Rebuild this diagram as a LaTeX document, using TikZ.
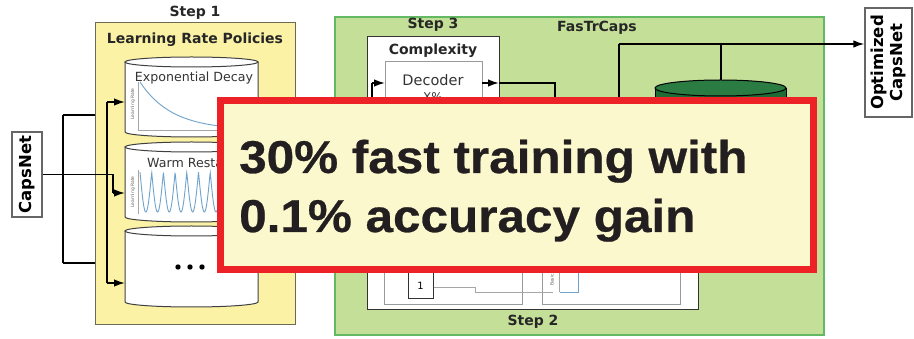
\documentclass[tikz,border=0pt]{standalone}
\usepackage{fontspec}
\setmainfont{DejaVu Sans}
\newfontfamily\bigfont{Liberation Sans}[FakeStretch=1.075, BoldFeatures={FakeBold=0.6}]
\usetikzlibrary{arrows.meta}
\definecolor{yelfill}{HTML}{FBF2A5}
\definecolor{yelline}{HTML}{6B6B55}
\definecolor{grnfill}{HTML}{C4DF98}
\definecolor{grnline}{HTML}{63B863}
\definecolor{redline}{HTML}{EC2227}
\definecolor{creamfill}{HTML}{FCF8CE}
\definecolor{txtdark}{HTML}{231F20}
\definecolor{darkgrn}{HTML}{1F6B35}
\definecolor{darkgrntop}{HTML}{2B7C42}
\definecolor{curveblue}{HTML}{6FA3CC}
\definecolor{boxgray}{HTML}{9A9A9A}
\tikzset{
  lbl/.style={font=\bfseries\fontsize{14}{16}\selectfont, inner sep=0pt, text=black!85},
  wire/.style={line width=1.6pt, black},
  arr/.style={wire, -{Latex[length=11pt,width=7.5pt]}},
  thinbox/.style={draw=boxgray, line width=1pt, fill=white},
  tinytxt/.style={font=\fontsize{4.5}{5}\selectfont, text=black!60, inner sep=0pt, rotate=90},
  axisline/.style={draw=black!35, line width=0.6pt},
  curve/.style={draw=curveblue, line width=0.9pt},
  sidebox/.style={draw=black!60, line width=1.2pt, fill=white, rotate=90, inner sep=0pt,
     font=\bfseries\fontsize{16.5}{19}\selectfont, align=center}
}
\begin{document}
\begin{tikzpicture}[x=1pt,y=-1pt]
\useasboundingbox (0,0) rectangle (914,339);
\fill[white] (0,0) rectangle (914,339);

% input box
\node[sidebox, minimum width=85pt, minimum height=30pt] (caps) at (27,174.5) {CapsNet};

% lines hidden behind step 1 box
\draw[wire] (63,115) -- (63,263);
\draw[wire] (63,115) -- (107,115);
\draw[wire] (63,263) -- (107,263);

% Step 1 box
\draw[fill=yelfill, draw=yelline, line width=1pt] (95,23) rectangle (295,325);
\node[lbl] (s1) at (195,13) {Step 1};
\node[lbl] (lrp) at (195,40) {Learning Rate Policies};

% cylinders of step 1
\foreach \t/\b/\n in {62/132/c1, 147/217/c2, 231/302/c3}{
  \draw[fill=white, draw=black!75, line width=1pt] (125,\t) -- (125,\b)
     arc[start angle=180, end angle=0, x radius=66.5, y radius=5] -- (258,\t);
  \draw[fill=white, draw=black!75, line width=1pt] (191.5,\t) ellipse[x radius=66.5, y radius=5];
  \coordinate (\n) at (125,\t);
}
\node[font=\fontsize{12.6}{14}\selectfont, inner sep=0pt, text=black!80] (ed) at (194,78) {Exponential Decay};
\node[font=\fontsize{12.6}{14}\selectfont, inner sep=0pt, text=black!80, anchor=west] (wr) at (147,163) {Warm Restarts};
\node[tinytxt] (lr1) at (133,104) {Learning Rate};
\node[tinytxt] (lr2) at (133,192) {Learning Rate};
\draw[axisline] (138,82) -- (138,130) -- (250,130);
\draw[curve] plot[domain=140:250, samples=80] (\x, {130-48*exp(-(\x-140)/32)});
\draw[axisline] (138,170) -- (138,214);
\draw[curve] plot[domain=140:250, samples=300] (\x, {172+40*abs(sin((\x-140)/11.7*180))});
\foreach \dx in {178,190,202}{ \fill[black] (\dx,267) circle[radius=2.7]; }

% connectors into step 1
\draw[wire] (107,102) -- (107,283);
\draw[arr] (107,102) -- (c1 |- 0,102);
\draw[arr] (107,283) -- (c3 |- 0,283);
\draw[wire] (caps.south) -- (113,174.5) -- (113,193);
\draw[arr] (113,193) -- (c2 |- 0,193);

% FasTrCaps box
\draw[fill=grnfill, draw=grnline, line width=1.5pt] (335,17) rectangle (824,335);
\node[lbl] (s3) at (433,25) {Step 3};
\node[lbl] (ftc) at (597,28) {FasTrCaps};

% Complexity box and step 2 box
\draw[fill=white, draw=black!80, line width=1pt] (367,200) rectangle (698,310);
\draw[fill=white, draw=black!80, line width=1pt] (367,37) rectangle (499,170);
\node[lbl] (cplx) at (433,51) {Complexity};
\draw[thinbox] (385,62) rectangle (482,160);
\node[font=\fontsize{14.5}{16}\selectfont, inner sep=0pt, text=black!80] (dec) at (433,80) {Decoder};
\node[font=\fontsize{12}{14}\selectfont, inner sep=0pt, text=black!80] (xp) at (433,97) {X\%};
\draw[thinbox] (384,220) rectangle (522,305);
\draw[thinbox] (542,220) rectangle (680,305);
\node[draw=black!80, line width=1pt, fill=white, minimum width=25pt, minimum height=26pt, inner sep=0pt,
  font=\fontsize{10}{12}\selectfont] (one) at (420.5,286) {1};
\draw[draw=black!35, line width=0.7pt] (one.east |- 0,287) -- (475,287) -- (475,292) -- (553,292);
\node[tinytxt] (basic) at (552,280) {Basic};
\draw[axisline] (559,273) -- (559,292);
\draw[curve] (560,292) -- (578,292) -- (578,273);

% connectors around decoder
\draw[wire] (372,120) -- (372,83);
\draw[arr] (372,83) -- (385,83);
\draw[arr] (482,83) -- (499,83);
\draw[wire] (499,83) -- (555,83) -- (555,150);

% database cylinder
\draw[fill=darkgrn, draw=black, line width=1pt] (655,88) -- (655,200) -- (786,200) -- (786,88);
\draw[fill=darkgrntop, draw=black, line width=1pt] (720.5,88) ellipse[x radius=65.5, y radius=8];

% output
\node[sidebox, minimum width=109pt, minimum height=47pt] (opt) at (888.5,62.5) {Optimized\\CapsNet};
\coordinate (oj) at (619,44);
\draw[wire] (619,150) -- (oj);
\draw[arr] (oj) -- (oj -| opt.north);
\draw[wire] (721,44) -- (721,80);

% highlight box
\node[draw=redline, line width=7pt, fill=creamfill, minimum width=593pt, minimum height=169pt, inner sep=0pt] (hl) at (517,185) {};
\node[anchor=base west, font=\bigfont\bfseries\fontsize{46}{50}\selectfont, text=txtdark, inner sep=0pt] (l1) at (239,173) {30\% fast training with};
\node[anchor=base west, font=\bigfont\bfseries\fontsize{46}{50}\selectfont, text=txtdark, inner sep=0pt] (l2) at (239,232) {0.1\% accuracy gain};

\node[lbl] (s2) at (533,322) {Step 2};
\end{tikzpicture}
\end{document}
